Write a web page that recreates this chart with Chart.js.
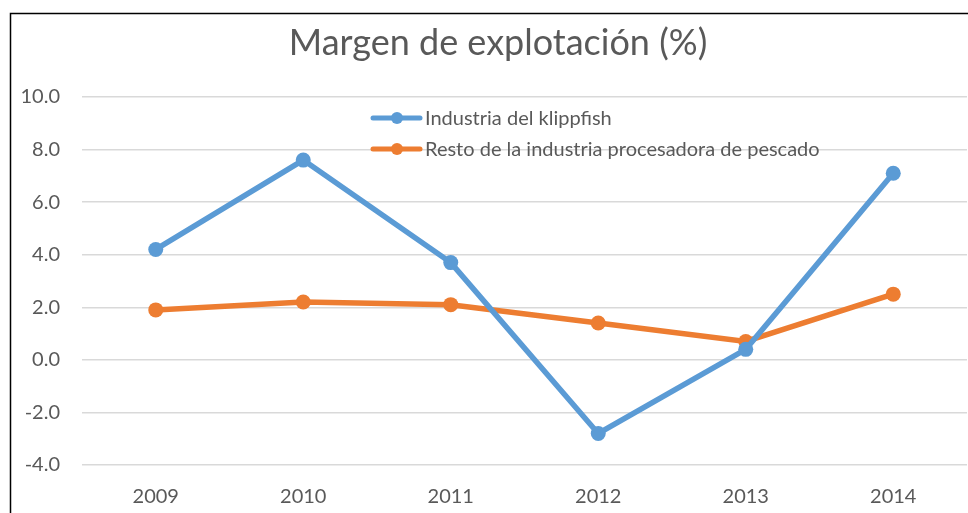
<!DOCTYPE html>
<html>
<head>
<meta charset="utf-8">
<script src="https://cdn.jsdelivr.net/npm/chart.js@4"></script>
<style>
  html, body { margin: 0; padding: 0; background: #fff; overflow: hidden; }
  #wrap { width: 968px; height: 513px; }
  canvas { display: block; }
</style>
</head>
<body>
<div id="wrap"><canvas id="chart" width="968" height="513"></canvas></div>
<script>
const years = ["2009", "2010", "2011", "2012", "2013", "2014"];
const klippfish = [4.2, 7.6, 3.7, -2.8, 0.4, 7.1];
const restoIndustria = [1.9, 2.2, 2.1, 1.4, 0.7, 2.5];
const yTicks = [-4, -2, 0, 2, 4, 6, 8, 10];

const titleText = "Margen de explotación (%)";
const fontFamily = "Lato, 'Open Sans', sans-serif";

// frame, title and in-plot legend, drawn like the Excel original
const decorations = {
    id: "decorations",
    beforeDraw(chart) {
        const ctx = chart.ctx;
        ctx.save();
        ctx.fillStyle = "#fff";
        ctx.fillRect(0, 0, chart.width, chart.height);
        ctx.strokeStyle = "#000";
        ctx.lineWidth = 1.5;
        ctx.beginPath();
        ctx.moveTo(10.5, chart.height);
        ctx.lineTo(10.5, 13.5);
        ctx.lineTo(chart.width, 13.5);
        ctx.stroke();
        ctx.restore();
    },
    afterDraw(chart) {
        const ctx = chart.ctx;
        ctx.save();
        ctx.fillStyle = "#595959";
        ctx.font = "36px " + fontFamily;
        ctx.textAlign = "center";
        ctx.textBaseline = "middle";
        ctx.fillText(titleText, 498, 43);

        ctx.font = "20px " + fontFamily;
        ctx.textAlign = "left";
        chart.data.datasets.forEach((ds, i) => {
            const y = 118 + i * 31;
            ctx.strokeStyle = ds.borderColor;
            ctx.lineWidth = 5;
            ctx.lineCap = "round";
            ctx.beginPath();
            ctx.moveTo(373, y);
            ctx.lineTo(420, y);
            ctx.stroke();
            ctx.fillStyle = ds.borderColor;
            ctx.beginPath();
            ctx.arc(397, y, 6, 0, Math.PI * 2);
            ctx.fill();
            ctx.fillStyle = "#595959";
            ctx.fillText(ds.label, 425, y + 1);
        });
        ctx.restore();
    },
};

new Chart(document.getElementById("chart"), {
    type: "line",
    data: {
        labels: years,
        datasets: [
            {
                label: "Industria del klippfish",
                data: klippfish,
                borderColor: "#5b9bd5",
                backgroundColor: "#5b9bd5",
                borderWidth: 5.5,
                pointRadius: 7.5,
                pointBorderWidth: 0,
                pointHoverRadius: 7.5,
                tension: 0,
            },
            {
                label: "Resto de la industria procesadora de pescado",
                data: restoIndustria,
                borderColor: "#ed7d31",
                backgroundColor: "#ed7d31",
                borderWidth: 5.5,
                pointRadius: 7.5,
                pointBorderWidth: 0,
                pointHoverRadius: 7.5,
                tension: 0,
            },
        ],
    },
    options: {
        responsive: false,
        animation: false,
        layout: { autoPadding: false, padding: { top: 97, right: 1, left: 0, bottom: 0 } },
        plugins: {
            legend: { display: false },
            title: { display: false },
            tooltip: { enabled: false },
        },
        scales: {
            x: {
                offset: true,
                grid: { display: false },
                border: { display: false },
                ticks: {
                    color: "#595959",
                    font: { family: fontFamily, size: 20 },
                    padding: 12,
                    maxRotation: 0,
                },
                afterFit(scale) {
                    scale.height = 48;
                    scale.paddingLeft = 0;
                    scale.paddingRight = 0;
                },
            },
            y: {
                min: -4,
                max: 10,
                afterBuildTicks(scale) {
                    scale.ticks = yTicks.map((v) => ({ value: v }));
                },
                grid: { color: "#d9d9d9", lineWidth: 1.5, drawTicks: false },
                border: { display: false },
                ticks: {
                    color: "#595959",
                    font: { family: fontFamily, size: 20 },
                    padding: 22,
                    callback: (v) => v.toFixed(1),
                },
                afterFit(scale) { scale.width = 82; },
            },
        },
    },
    plugins: [decorations],
});
</script>
</body>
</html>
